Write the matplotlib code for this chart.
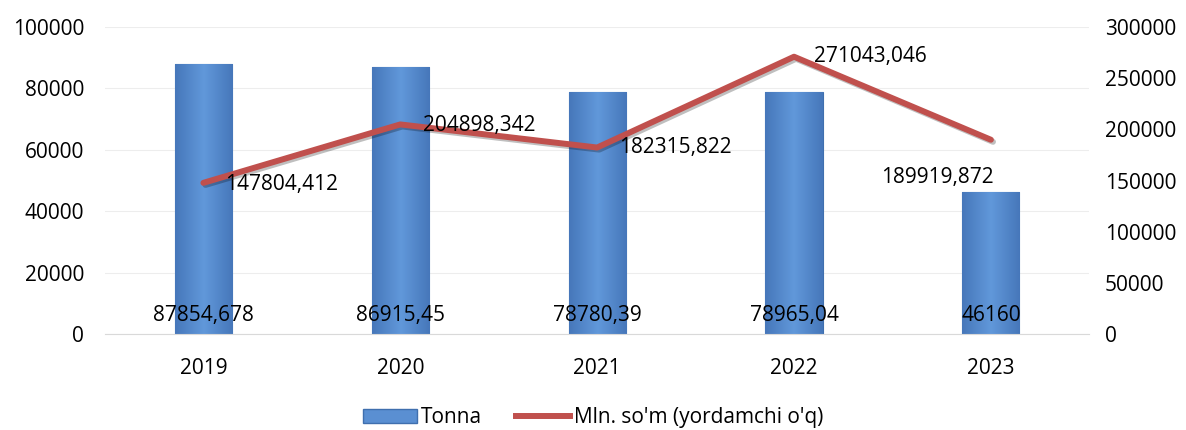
import numpy as np
import matplotlib.pyplot as plt
import matplotlib.patheffects as pe
from matplotlib.colors import LinearSegmentedColormap
from matplotlib.lines import Line2D
from matplotlib.patches import Patch

# ── Data ─────────────────────────────────────────────────────────────────────
years = ['2019', '2020', '2021', '2022', '2023']
tonna = [87854.678, 86915.45, 78780.39, 78965.04, 46160]
tonna_labels = ['87854,678', '86915,45', '78780,39', '78965,04', '46160']
mln_som = [147804.412, 204898.342, 182315.822, 271043.046, 189919.872]
mln_labels = ['147804,412', '204898,342', '182315,822', '271043,046', '189919,872']

plt.rcParams['font.family'] = ['Open Sans', 'DejaVu Sans']
plt.rcParams['font.size'] = 15

fig = plt.figure(figsize=(11.86, 4.30), dpi=100)
ax = fig.add_axes([0.0885, 0.223, 0.830, 0.714])
ax2 = ax.twinx()

x = np.arange(len(years))
bar_w = 0.29

# barras com gradiente (efeito bisel)
grad = np.linspace(0, 1, 256).reshape(1, -1)
grad = np.abs(grad - 0.5) * 2
cmap = LinearSegmentedColormap.from_list('b', ['#6198DA', '#4677BA'])
bars = ax.bar(x, tonna, width=bar_w, color='#5A8FD2', edgecolor='#3F6FAE',
              linewidth=0.8, zorder=2)
for b in bars:
    x0, y0 = b.get_x(), b.get_y()
    im = ax.imshow(grad, extent=[x0, x0 + b.get_width(), y0, y0 + b.get_height()],
                   aspect='auto', cmap=cmap, zorder=2.1)
    im.set_clip_path(b)

for xi, lab in zip(x, tonna_labels):
    ax.text(xi, 6200, lab, ha='center', va='center', zorder=5)

ax.set_xlim(-0.5, len(years) - 0.5)
ax.set_ylim(0, 100000)
ax.set_yticks(range(0, 100001, 20000))
ax.set_xticks(x)
ax.set_xticklabels(years)
ax.grid(axis='y', color='#EDEDED', linewidth=0.8, zorder=0)
ax.set_axisbelow(True)
ax.tick_params(axis='y', length=0, pad=15)
ax.tick_params(axis='x', length=0, pad=17)
for s in ['top', 'right', 'left']:
    ax.spines[s].set_visible(False)
ax.spines['bottom'].set_color('#D9D9D9')

ax2.plot(x, mln_som, color='#C0504D', linewidth=4.3, solid_capstyle='round', zorder=3,
         path_effects=[pe.SimpleLineShadow(offset=(1.5, -1.5), alpha=0.25), pe.Normal()])
ax2.set_ylim(0, 300000)
ax2.set_yticks(range(0, 300001, 50000))
ax2.tick_params(length=0, pad=11)
for s in ['top', 'right', 'left', 'bottom']:
    ax2.spines[s].set_visible(False)

offsets = [(0.396, -2000), (0.40, -1000), (0.396, 0), (0.39, 0), (-0.274, -37000)]
for xi, v, lab, (dx, dy) in zip(x, mln_som, mln_labels, offsets):
    ax2.text(xi + dx, v + dy, lab, ha='center', va='center', zorder=6)

legend_items = [
    Patch(facecolor='#5A8FD2', edgecolor='#3F6FAE', label='Tonna'),
    Line2D([0], [0], color='#C0504D', linewidth=4.3, label="Mln. so'm (yordamchi o'q)"),
]
fig.legend(handles=legend_items, loc='lower center', bbox_to_anchor=(0.5, -0.04),
           ncol=2, frameon=False, handlelength=2.6, columnspacing=1.6,
           handletextpad=0.2, handleheight=0.6)

plt.savefig('out.png', dpi=100)
